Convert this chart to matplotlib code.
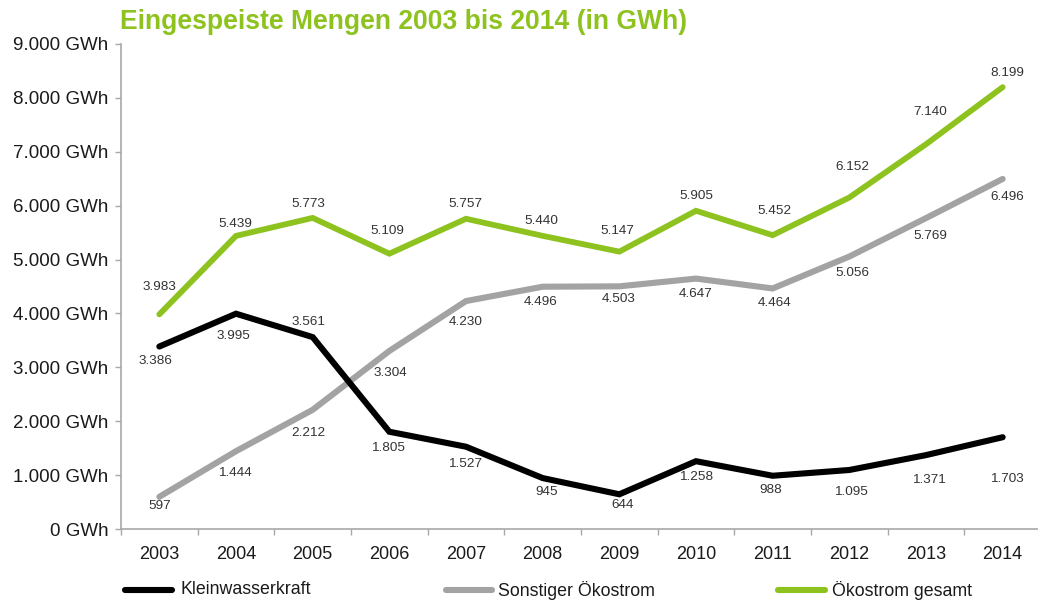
import matplotlib
matplotlib.use("Agg")
import matplotlib.pyplot as plt
from matplotlib.lines import Line2D

plt.rcParams['font.family'] = ['Liberation Sans', 'DejaVu Sans']

# ---- data ----
years = ["2003", "2004", "2005", "2006", "2007", "2008", "2009", "2010", "2011", "2012", "2013", "2014"]
kleinwasserkraft = [3386, 3995, 3561, 1805, 1527, 945, 644, 1258, 988, 1095, 1371, 1703]
sonstiger = [597, 1444, 2212, 3304, 4230, 4496, 4503, 4647, 4464, 5056, 5769, 6496]
gesamt = [3983, 5439, 5773, 5109, 5757, 5440, 5147, 5905, 5452, 6152, 7140, 8199]
series_names = ["Kleinwasserkraft", "Sonstiger Ökostrom", "Ökostrom gesamt"]
ytick_values = [0, 1000, 2000, 3000, 4000, 5000, 6000, 7000, 8000, 9000]
title = "Eingespeiste Mengen 2003 bis 2014 (in GWh)"

# ---- styles ----
c_black = "#000000"
c_gray = "#A3A3A3"
c_green = "#8DC21F"
txt_col = "#333333"

# label offsets in pixels (dx, dy; positive dy = downwards)
off_black = [(-4, 14), (-3, 22), (-4, -15), (-1, 16), (-1, 17), (4, 14), (3, 11), (0, 16), (-2, 14), (2, 22), (3, 25), (4, 42)]
off_gray = [(0, 9), (-1, 22), (-4, 23), (1, 22), (0, 21), (-2, 15), (-1, 13), (0, 15), (2, 15), (3, 16), (4, 18), (5, 18)]
off_green = [(0, -27), (-1, -12), (-4, -14), (-2, -23), (-1, -15), (-1, -15), (-2, -21), (0, -15), (2, -24), (3, -30), (4, -32), (5, -14)]

W, H = 1038, 601
fig = plt.figure(figsize=(W / 100, H / 100), dpi=100)
ax_l, ax_r, ax_b, ax_t = 121, 1041, 529, 44
ax = fig.add_axes([ax_l / W, (H - ax_b) / H, (ax_r - ax_l) / W, (ax_b - ax_t) / H])

x = list(range(len(years)))
lw = 4.4
ax.plot(x, kleinwasserkraft, color=c_black, lw=lw, solid_capstyle='round', solid_joinstyle='miter', zorder=3)
ax.plot(x, sonstiger, color=c_gray, lw=lw, solid_capstyle='round', solid_joinstyle='miter', zorder=2)
ax.plot(x, gesamt, color=c_green, lw=lw * 0.95, solid_capstyle='round', solid_joinstyle='miter', zorder=2)

def fmt(v):
    return f"{v:,}".replace(",", ".")

px2pt = 72 / 100
for vals, offs in [(kleinwasserkraft, off_black), (sonstiger, off_gray), (gesamt, off_green)]:
    for xi, v, (dx, dy) in zip(x, vals, offs):
        ax.annotate(fmt(v), (xi, v), xytext=(dx * px2pt, -dy * px2pt), textcoords='offset points',
                    ha='center', va='center', fontsize=9.7, color=txt_col, zorder=5)

ax.set_xlim(-0.5, len(years) - 0.5)
ax.set_ylim(0, 9000)
ax.set_yticks(ytick_values)
ax.set_yticklabels([fmt(v) + " GWh" for v in ytick_values])
ax.set_xticks(x)
ax.set_xticklabels(years)
ax.set_xticks([i - 0.5 for i in range(len(years) + 1)], minor=True)

for s in ['top', 'right']:
    ax.spines[s].set_visible(False)
for s in ['left', 'bottom']:
    ax.spines[s].set_color("#A8A8A8")
    ax.spines[s].set_linewidth(1.2)

ax.tick_params(axis='y', direction='out', length=4, width=1, color="#A8A8A8", pad=5,
               labelsize=13.5, labelcolor="#1a1a1a")
ax.tick_params(axis='x', which='major', length=0, pad=12, labelsize=13, labelcolor="#1a1a1a")
ax.tick_params(axis='x', which='minor', direction='out', length=4, width=1, color="#A8A8A8")

# title
fig.text(120 / W, 1 - 22 / H, title, ha='left', va='center', fontsize=19.1, fontweight='bold', color=c_green)

# legend (manual)
leg_y = 1 - 590 / H
for (x0, x1, xt), col, name in zip([(125, 172, 180), (446, 492, 498), (778, 825, 832)],
                                   [c_black, c_gray, c_green], series_names):
    fig.add_artist(Line2D([x0 / W, x1 / W], [leg_y, leg_y], color=col, lw=lw, solid_capstyle='round',
                          transform=fig.transFigure))
    fig.text(xt / W, leg_y, name, ha='left', va='center', fontsize=12.8, color="#1a1a1a")

fig.savefig("out.png", dpi=100)
